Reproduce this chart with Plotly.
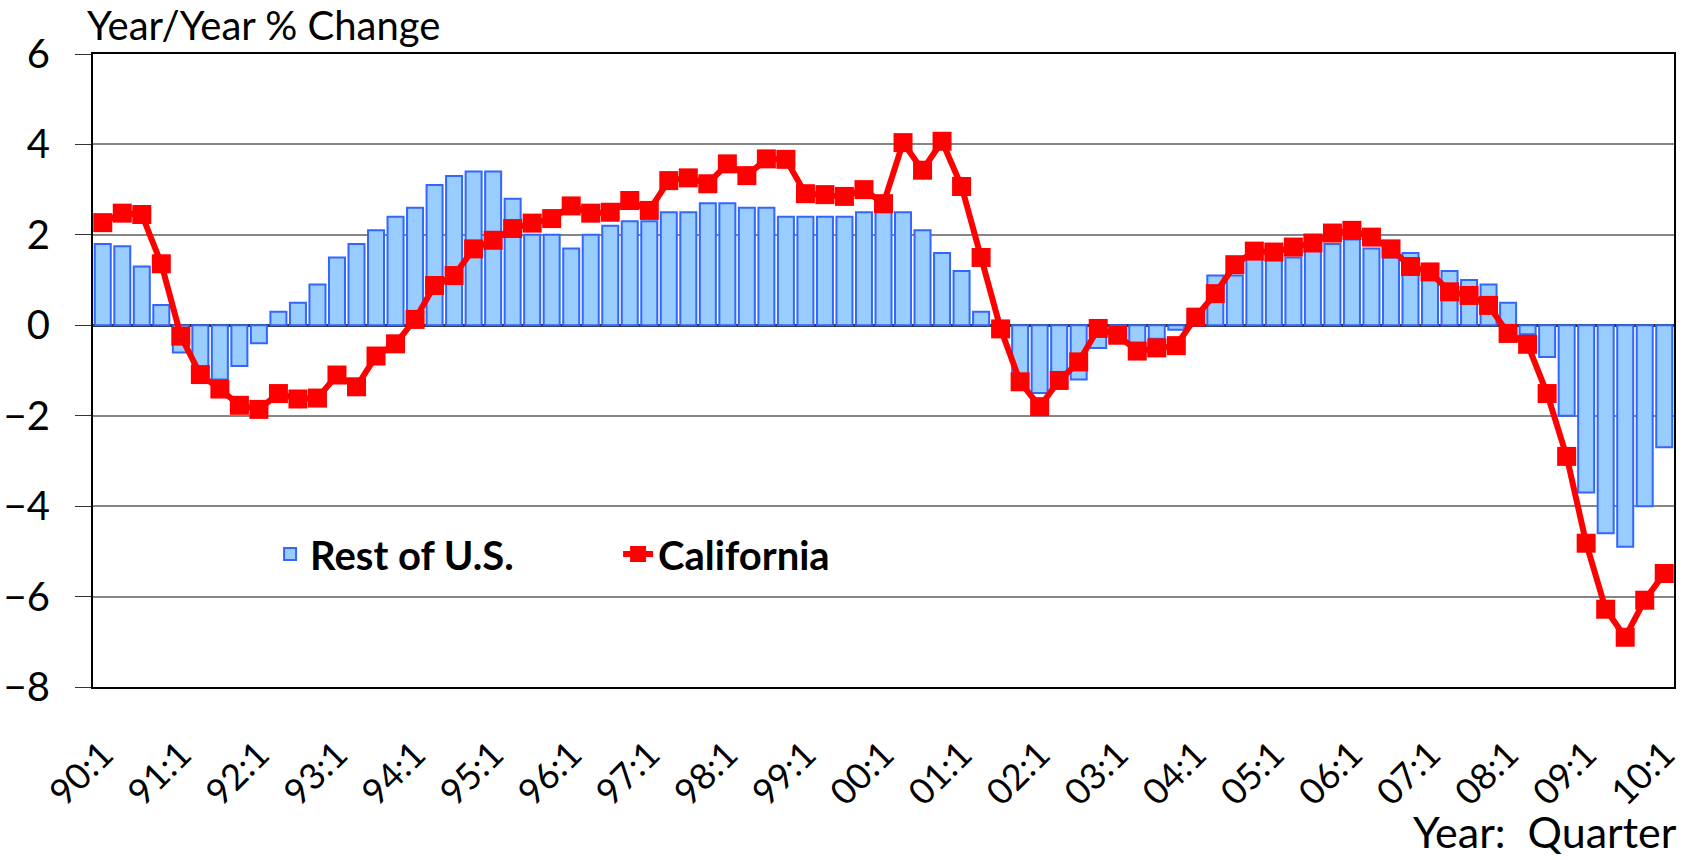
import plotly.graph_objects as go

# Quarter labels 90:1 .. 10:1
years = ["90", "91", "92", "93", "94", "95", "96", "97", "98", "99",
         "00", "01", "02", "03", "04", "05", "06", "07", "08", "09", "10"]
quarters = [f"{y}:{q}" for y in years for q in range(1, 5)][:81]
tick_labels = [f"{y}:1" for y in years]

rest_us = [1.8, 1.75, 1.3, 0.45, -0.6, -1.0, -1.2, -0.9, -0.4, 0.3,
           0.5, 0.9, 1.5, 1.8, 2.1, 2.4, 2.6, 3.1, 3.3, 3.4,
           3.4, 2.8, 2.0, 2.0, 1.7, 2.0, 2.2, 2.3, 2.3, 2.5,
           2.5, 2.7, 2.7, 2.6, 2.6, 2.4, 2.4, 2.4, 2.4, 2.5,
           2.5, 2.5, 2.1, 1.6, 1.2, 0.3, -0.2, -1.3, -1.5, -1.3,
           -1.2, -0.5, -0.3, -0.4, -0.3, -0.1, 0.3, 1.1, 1.1, 1.5,
           1.45, 1.5, 1.75, 1.8, 1.9, 1.7, 1.5, 1.6, 1.3, 1.2,
           1.0, 0.9, 0.5, -0.2, -0.7, -2.0, -3.7, -4.6, -4.9, -4.0,
           -2.7]

california = [2.27, 2.48, 2.45, 1.36, -0.24, -1.09, -1.41, -1.77, -1.86, -1.51,
              -1.63, -1.61, -1.10, -1.36, -0.68, -0.41, 0.13, 0.88, 1.10, 1.69,
              1.88, 2.14, 2.26, 2.36, 2.64, 2.48, 2.5, 2.76, 2.54, 3.2,
              3.26, 3.13, 3.57, 3.31, 3.68, 3.67, 2.91, 2.89, 2.85, 3.0,
              2.69, 4.04, 3.43, 4.07, 3.07, 1.50, -0.08, -1.25, -1.80, -1.22,
              -0.81, -0.07, -0.22, -0.57, -0.5, -0.45, 0.18, 0.7, 1.34, 1.64,
              1.62, 1.73, 1.82, 2.04, 2.1, 1.95, 1.69, 1.3, 1.18, 0.74,
              0.66, 0.44, -0.18, -0.42, -1.51, -2.9, -4.82, -6.28, -6.9, -6.08,
              -5.49]

FONT = "Lato"

fig = go.Figure()
fig.add_trace(go.Bar(
    x=quarters, y=rest_us, name="Rest of U.S.",
    marker=dict(color="#99CCFF", line=dict(color="#3366FF", width=2)),
))
fig.add_trace(go.Scatter(
    x=quarters, y=california, name="California", mode="lines+markers",
    line=dict(color="#FF0000", width=6),
    marker=dict(symbol="square", size=19, color="#FF0000"),
))

fig.update_layout(
    width=1688, height=860,
    margin=dict(l=93, r=14, t=54, b=173, autoexpand=False),
    plot_bgcolor="white", paper_bgcolor="white",
    bargap=0.18,
    font=dict(family=FONT, size=40, color="black"),
    showlegend=True,
    legend=dict(orientation="h", x=0.112, y=0.21, xanchor="left", yanchor="middle",
                bgcolor="rgba(0,0,0,0)",
                font=dict(family=FONT, size=40, color="black", weight="bold"),
                entrywidth=303, entrywidthmode="pixels"),
    xaxis=dict(
        type="category", categoryorder="array", categoryarray=quarters,
        range=[-0.5, len(quarters) - 0.5], autorange=False, automargin=False,
        tickmode="array", tickvals=tick_labels, ticktext=tick_labels,
        tickangle=-45, tickfont=dict(family=FONT, size=36),
        showgrid=False, ticks="", showline=True, mirror=True,
        linecolor="black", linewidth=2, ticklabelstandoff=30,
    ),
    yaxis=dict(
        range=[-8, 6], dtick=2, tick0=0, automargin=False,
        showgrid=True, gridcolor="#868686", gridwidth=2,
        zeroline=True, zerolinecolor="#333333", zerolinewidth=3,
        ticks="outside", ticklen=16, tickcolor="#333333", tickwidth=1,
        tickfont=dict(family=FONT, size=40),
        showline=True, mirror=True, linecolor="black", linewidth=2,
        ticklabelstandoff=17,
    ),
    annotations=[
        dict(text="Year/Year % Change", xref="paper", yref="paper",
             x=-0.005, y=1, xanchor="left", yanchor="bottom", yshift=3,
             showarrow=False, font=dict(family=FONT, size=40)),
        dict(text="Year:  Quarter", xref="paper", yref="paper",
             x=1.003, y=-0.2725, xanchor="right", yanchor="bottom",
             showarrow=False, font=dict(family=FONT, size=43)),
    ],
)

fig.write_html("out.html", config={"displayModeBar": False},
               post_script="document.body.style.margin='0';document.body.style.overflow='hidden';")
